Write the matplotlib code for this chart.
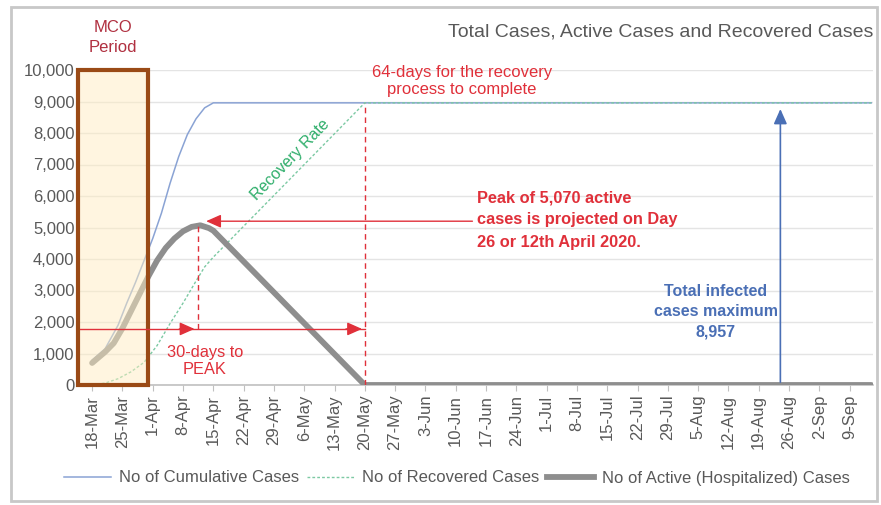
import matplotlib
matplotlib.use("Agg")
import matplotlib.pyplot as plt
from matplotlib.patches import Rectangle
from matplotlib.lines import Line2D
import datetime as dt

plt.rcParams['font.family'] = ['Liberation Sans', 'DejaVu Sans']

# ---- data (day 0 = 18-Mar-2020) ----
start = dt.date(2020, 3, 18)
cum_days = [0, 3, 6, 8, 10, 12, 14, 16, 18, 20, 22, 24, 26, 28, 180]
cum_vals = [790, 1150, 1900, 2600, 3250, 3950, 4650, 5450, 6400, 7250, 7950, 8450, 8800, 8957, 8957]

rec_days = [0, 3, 6, 9, 12, 15, 18, 21, 24, 26, 28, 63, 180]
rec_vals = [0, 60, 200, 420, 720, 1250, 1950, 2600, 3300, 3750, 4060, 8957, 8957]

act_days = [0, 3, 5, 7, 9, 11, 13, 15, 17, 19, 21, 23, 25, 27, 28, 63, 180]
act_vals = [700, 1050, 1330, 1800, 2350, 2900, 3450, 3950, 4350, 4650, 4880, 5020, 5070, 4980, 4900, 0, 0]

tick_days = list(range(0, 176, 7))
tick_labels = [f"{(start + dt.timedelta(days=d)).day}-{(start + dt.timedelta(days=d)).strftime('%b')}" for d in tick_days]
y_ticks = list(range(0, 10001, 1000))

peak_day, peak_val = 24.5, 5070
recovery_end_day = 63
max_cases = 8957
max_arrow_day = 159
bar_level = 1780

RED = '#e0303a'
BLUE = '#4a6fb5'
GREEN = '#2fae6b'
TXT = '#595959'

fig = plt.figure(figsize=(8.81, 5.05), dpi=100)
ax = fig.add_axes([80/881, 1-385/505, (873-80)/881, (385-70)/505])

# outer frame
fig.patches.append(Rectangle((11/881, 4/505), 866/881, 494/505, transform=fig.transFigure,
                             fill=False, edgecolor='#c8c8c8', linewidth=2))

ax.plot(cum_days, cum_vals, color='#8aa3d4', lw=1.1, zorder=3)
ax.plot(rec_days, rec_vals, color='#7cc9a3', lw=1.0, ls=(0, (2, 1.5)), zorder=3)
ax.plot(act_days, act_vals, color='#8e8e8e', lw=4.2, solid_capstyle='round', zorder=4)

ax.set_xlim(-2.8, 180.4)
ax.set_ylim(0, 10000)
ax.set_yticks(y_ticks)
ax.set_yticklabels([f"{v:,}" for v in y_ticks])
ax.set_xticks(tick_days)
ax.set_xticklabels(tick_labels, rotation=90)
ax.tick_params(axis='y', length=0, labelsize=12, labelcolor=TXT, pad=4)
ax.tick_params(axis='x', length=4, color='#c0c0c0', labelsize=12, labelcolor=TXT, pad=3)
ax.grid(axis='y', color='#e4e4e4', lw=1)
ax.set_axisbelow(True)
for s in ['top', 'right', 'left']:
    ax.spines[s].set_visible(False)
ax.spines['bottom'].set_color('#c0c0c0')
ax.spines['bottom'].set_linewidth(1.2)

# MCO box
ax.add_patch(Rectangle((-3.2, 0), 16.1, 10000, facecolor=(1.0, 0.93, 0.76, 0.5),
                       edgecolor='#9a4a16', linewidth=3, zorder=5, clip_on=False))
fig.text(113/881, 1-28/505, 'MCO', ha='center', va='center', fontsize=12, color='#b03040')
fig.text(113/881, 1-47/505, 'Period', ha='center', va='center', fontsize=12, color='#b03040')

# title
fig.text(873/881, 1-32/505, 'Total Cases, Active Cases and Recovered Cases', ha='right', va='center',
         fontsize=14, color=TXT)

# red annotations
ax.plot([recovery_end_day, recovery_end_day], [0, max_cases], color=RED, lw=1, ls=(0, (4, 3)), zorder=6)
ax.plot([peak_day, peak_day], [bar_level, peak_val], color=RED, lw=1, ls=(0, (4, 3)), zorder=6)
ax.plot([-3.2, recovery_end_day], [bar_level, bar_level], color=RED, lw=1, zorder=6)
arrow_style = '-|>,head_length=0.9,head_width=0.4'
ax.annotate('', xy=(peak_day - 0.2, bar_level), xytext=(peak_day - 5, bar_level),
            arrowprops=dict(arrowstyle=arrow_style, color=RED, lw=1), zorder=7)
ax.annotate('', xy=(recovery_end_day, bar_level), xytext=(recovery_end_day - 5, bar_level),
            arrowprops=dict(arrowstyle=arrow_style, color=RED, lw=1), zorder=7)
ax.annotate('', xy=(25.7, 5200), xytext=(88.5, 5200),
            arrowprops=dict(arrowstyle=arrow_style, color=RED, lw=1), zorder=7)

fig.text(462/881, 1-72/505, '64-days for the recovery', ha='center', va='center', fontsize=12, color=RED)
fig.text(462/881, 1-90/505, 'process to complete', ha='center', va='center', fontsize=12, color=RED)

for i, line in enumerate(['Peak of 5,070 active', 'cases is projected on Day', '26 or 12th April 2020.']):
    fig.text(477/881, 1-(198 + 22*i)/505, line, ha='left', va='center', fontsize=11.8,
             fontweight='bold', color=RED)

fig.text(205/881, 1-352/505, '30-days to', ha='center', va='center', fontsize=11.8, color=RED)
fig.text(205/881, 1-370/505, 'PEAK', ha='center', va='center', fontsize=11.8, color=RED)

ax.text(45.7, 7140, 'Recovery Rate', rotation=46, ha='center', va='center', fontsize=11.5,
        color=GREEN, rotation_mode='anchor')

# blue annotation
ax.annotate('', xy=(max_arrow_day, 8850), xytext=(max_arrow_day, 0),
            arrowprops=dict(arrowstyle=arrow_style, color=BLUE, lw=1.2), zorder=7)
for i, line in enumerate(['Total infected', 'cases maximum', '8,957']):
    fig.text(716/881, 1-(292 + 20*i)/505, line, ha='center', va='center', fontsize=11.5,
             fontweight='bold', color=BLUE)

# legend
handles = [Line2D([], [], color='#8aa3d4', lw=1.1),
           Line2D([], [], color='#7cc9a3', lw=1.0, ls=(0, (2, 1.5))),
           Line2D([], [], color='#8e8e8e', lw=4.2)]
labels = ['No of Cumulative Cases', 'No of Recovered Cases', 'No of Active (Hospitalized) Cases']
leg = fig.legend(handles, labels, loc='center', bbox_to_anchor=(457/881, 1-478/505), ncol=3,
                 frameon=False, fontsize=12, handlelength=2.8, columnspacing=0.5, handletextpad=0.47)
for t in leg.get_texts():
    t.set_color(TXT)

fig.savefig('out.png', dpi=100)
